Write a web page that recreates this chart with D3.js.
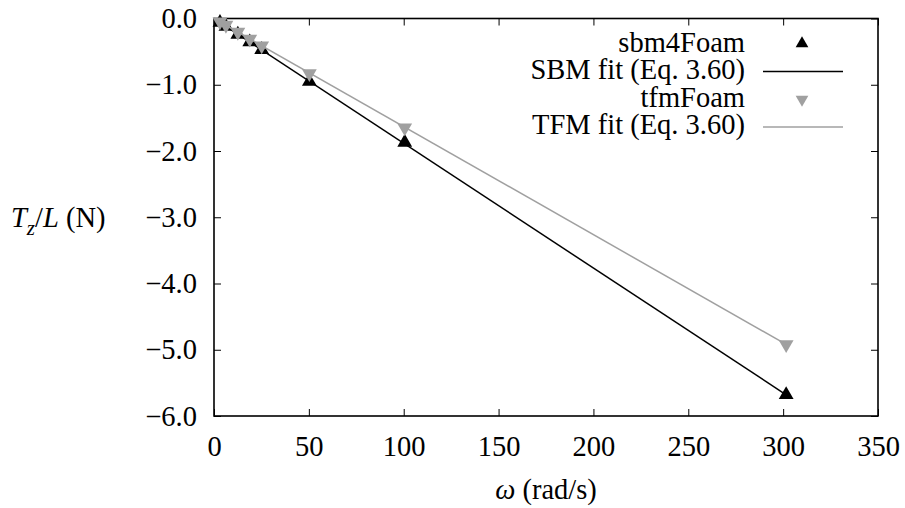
<!DOCTYPE html>
<html>
<head>
<meta charset="utf-8">
<script src="https://cdn.jsdelivr.net/npm/d3@7"></script>
<style>
  body { margin: 0; background: #fff; }
  svg text { font-family: "Liberation Serif", "Times New Roman", serif; fill: #000; }
</style>
</head>
<body>
<svg id="chart"></svg>
<script>
// omega (rad/s) of the simulated cases
const omega = [3.14, 6.28, 12.57, 18.85, 25.13, 50.27, 100.53, 301.59];
// T_z/L (N)
const sbmValues = [-0.06, -0.12, -0.24, -0.355, -0.47, -0.95, -1.87, -5.68];
const tfmValues = [-0.05, -0.10, -0.205, -0.31, -0.41, -0.83, -1.65, -4.92];
// fit lines (Eq. 3.60), end points
const fitOmega = [0, 301.59];
const sbmFit = [0, -5.68];
const tfmFit = [0, -4.92];

const xTicks = [0, 50, 100, 150, 200, 250, 300, 350];
const yTicks = [0, -1, -2, -3, -4, -5, -6];
const legendLabels = ["sbm4Foam", "SBM fit (Eq. 3.60)", "tfmFoam", "TFM fit (Eq. 3.60)"];

const width = 905, height = 508;
const margin = { top: 18.5, right: 27, bottom: 92, left: 214 };
const fontSize = 28.5;
const serif = '"Liberation Serif", "Times New Roman", serif';
const grey = "#a0a0a0";

const svg = d3.select('#chart')
    .attr('width', width)
    .attr('height', height)
    .attr('font-family', serif);

const x = d3.scaleLinear()
    .domain([0, 350])
    .range([margin.left, width - margin.right]);

const y = d3.scaleLinear()
    .domain([-6, 0])
    .range([height - margin.bottom, margin.top]);

// axes, ticks pointing inward and mirrored on top / right
function styleAxis(g) {
    g.attr('font-family', serif).attr('font-size', fontSize);
    g.select('.domain').remove();
    g.selectAll('.tick line').attr('stroke', '#000').attr('stroke-width', 1);
}

svg.append('g')
    .attr('transform', `translate(0, ${y(-6)})`)
    .call(d3.axisBottom(x).tickValues(xTicks).tickSizeInner(-7).tickSizeOuter(0).tickPadding(20))
    .call(styleAxis);

svg.append('g')
    .attr('transform', `translate(0, ${y(0)})`)
    .call(d3.axisTop(x).tickValues(xTicks).tickSizeInner(-7).tickSizeOuter(0).tickFormat(''))
    .call(styleAxis);

svg.append('g')
    .attr('transform', `translate(${x(0)}, 0)`)
    .call(d3.axisLeft(y).tickValues(yTicks).tickSizeInner(-7).tickSizeOuter(0).tickPadding(17).tickFormat(d3.format('.1f')))
    .call(styleAxis);

svg.append('g')
    .attr('transform', `translate(${x(350)}, 0)`)
    .call(d3.axisRight(y).tickValues(yTicks).tickSizeInner(-7).tickSizeOuter(0).tickFormat(''))
    .call(styleAxis);

// frame
svg.append('rect')
    .attr('x', x(0))
    .attr('y', y(0))
    .attr('width', x(350) - x(0))
    .attr('height', y(-6) - y(0))
    .attr('fill', 'none')
    .attr('stroke', '#000')
    .attr('stroke-width', 1.6);

const line = d3.line()
    .x(d => x(d[0]))
    .y(d => y(d[1]));

const tri = d3.symbol().type(d3.symbolTriangle).size(95);

// sbm4Foam points
svg.append('g').selectAll('path')
    .data(d3.zip(omega, sbmValues))
    .enter()
    .append('path')
    .attr('d', tri())
    .attr('transform', d => `translate(${x(d[0])}, ${y(d[1])})`)
    .attr('fill', '#000');

// SBM fit
svg.append('path')
    .datum(d3.zip(fitOmega, sbmFit))
    .attr('d', line)
    .attr('fill', 'none')
    .attr('stroke', '#000')
    .attr('stroke-width', 1.5);

// tfmFoam points
svg.append('g').selectAll('path')
    .data(d3.zip(omega, tfmValues))
    .enter()
    .append('path')
    .attr('d', tri())
    .attr('transform', d => `translate(${x(d[0])}, ${y(d[1])}) rotate(180)`)
    .attr('fill', grey);

// TFM fit
svg.append('path')
    .datum(d3.zip(fitOmega, tfmFit))
    .attr('d', line)
    .attr('fill', 'none')
    .attr('stroke', grey)
    .attr('stroke-width', 1.5);

// legend (text baselines)
const legendY = [51.5, 79, 106.5, 134];
const legend = svg.append('g');

legend.selectAll('text')
    .data(legendLabels)
    .enter()
    .append('text')
    .attr('x', 745)
    .attr('y', (d, i) => legendY[i])
    .attr('text-anchor', 'end')
    .style('font-size', fontSize + 'px')
    .text(d => d);

const legendTri = d3.symbol().type(d3.symbolTriangle).size(70);
legend.append('path')
    .attr('d', legendTri())
    .attr('transform', `translate(802, ${legendY[0] - 8})`)
    .attr('fill', '#000');
legend.append('line')
    .attr('x1', 763).attr('x2', 843)
    .attr('y1', legendY[1] - 7.5).attr('y2', legendY[1] - 7.5)
    .attr('stroke', '#000').attr('stroke-width', 1.5);
legend.append('path')
    .attr('d', legendTri())
    .attr('transform', `translate(802, ${legendY[2] - 7}) rotate(180)`)
    .attr('fill', grey);
legend.append('line')
    .attr('x1', 763).attr('x2', 843)
    .attr('y1', legendY[3] - 7).attr('y2', legendY[3] - 7)
    .attr('stroke', grey).attr('stroke-width', 1.5);

// axis titles
const yTitle = svg.append('text')
    .attr('x', 11)
    .attr('y', y(-3))
    .attr('dy', '0.35em')
    .style('font-size', fontSize + 'px');
yTitle.append('tspan').style('font-style', 'italic').text('T');
yTitle.append('tspan').style('font-style', 'italic').style('font-size', '21px').attr('dy', 8).text('z');
yTitle.append('tspan').attr('dy', -8).text('/');
yTitle.append('tspan').style('font-style', 'italic').text('L');
yTitle.append('tspan').text(' (N)');

const xTitle = svg.append('text')
    .attr('x', (x(0) + x(350)) / 2)
    .attr('y', 489)
    .attr('dy', '0.35em')
    .attr('text-anchor', 'middle')
    .style('font-size', fontSize + 'px');
xTitle.append('tspan').style('font-style', 'italic').text('ω');
xTitle.append('tspan').text(' (rad/s)');
</script>
</body>
</html>
